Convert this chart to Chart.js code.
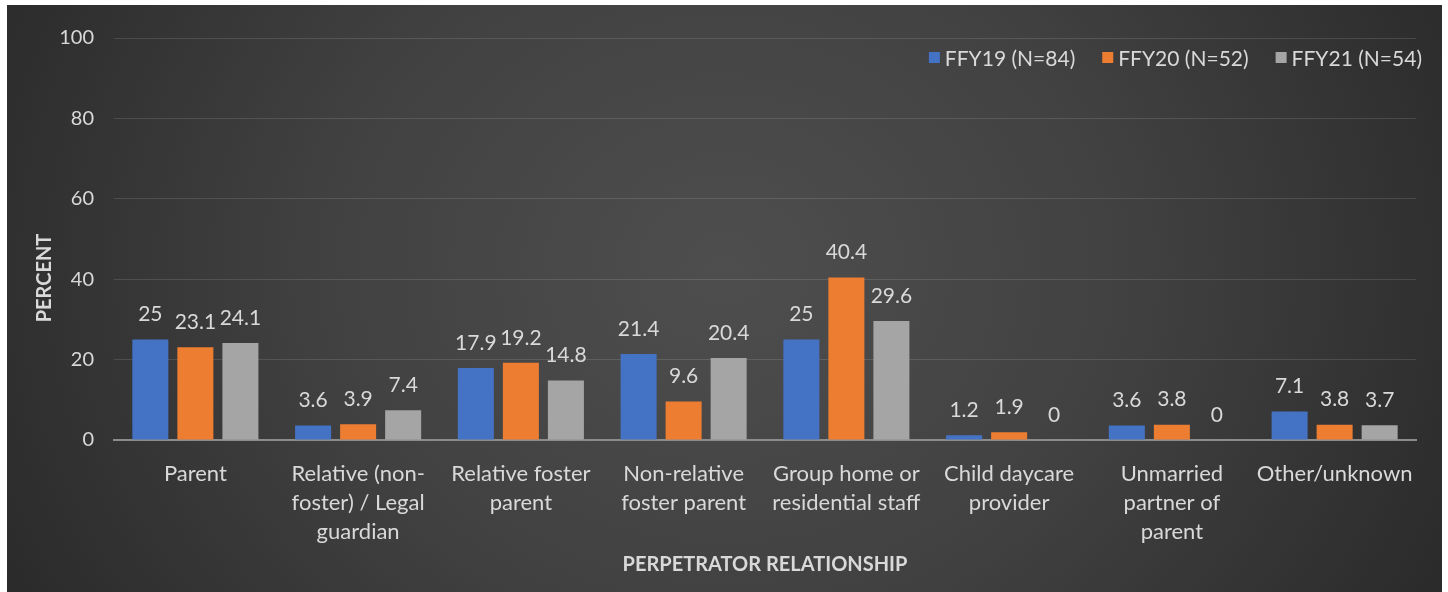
<!DOCTYPE html>
<html>
<head>
<meta charset="utf-8">
<script src="https://cdn.jsdelivr.net/npm/chart.js@4.4.1/dist/chart.umd.min.js"></script>
<style>
  html, body { margin: 0; padding: 0; background: #fff; }
  body { width: 1448px; height: 592px; position: relative; overflow: hidden; }
  .wrap {
    position: absolute; left: 7px; top: 5px; width: 1435px; height: 587px;
    background: radial-gradient(ellipse 62% 130% at 50% 45%, #4e4e4e 0%, #414141 45%, #262626 100%);
  }
</style>
</head>
<body>
<div class="wrap"><canvas id="myChart" width="1435" height="587"></canvas></div>
<script>
const categories = [
  "Parent",
  ["Relative (non-", "foster) / Legal", "guardian"],
  ["Relative foster", "parent"],
  ["Non-relative", "foster parent"],
  ["Group home or", "residential staff"],
  ["Child daycare", "provider"],
  ["Unmarried", "partner of", "parent"],
  "Other/unknown",
];

const seriesNames = ["FFY19 (N=84)", "FFY20 (N=52)", "FFY21 (N=54)"];
const seriesColors = ["#4472c4", "#ed7d31", "#a5a5a5"];
const ffy19 = [25, 3.6, 17.9, 21.4, 25, 1.2, 3.6, 7.1];
const ffy20 = [23.1, 3.9, 19.2, 9.6, 40.4, 1.9, 3.8, 3.8];
const ffy21 = [24.1, 7.4, 14.8, 20.4, 29.6, 0, 0, 3.7];

const yMin = 0;
const yMax = 100;
const yStep = 20;

const textColor = "#d9d9d9";
const fontFamily = "Lato, 'Open Sans', sans-serif";

// value labels above every bar
const barLabels = {
  id: "barLabels",
  afterDatasetsDraw(chart) {
    const ctx = chart.ctx;
    ctx.save();
    ctx.fillStyle = textColor;
    ctx.font = "21px " + fontFamily;
    ctx.textAlign = "center";
    ctx.textBaseline = "middle";
    chart.data.datasets.forEach((ds, i) => {
      chart.getDatasetMeta(i).data.forEach((bar, j) => {
        ctx.fillText(String(ds.data[j]), bar.x, bar.y - 25);
      });
    });
    ctx.restore();
  },
};

// legend sits inside the plot, top right, one row
const insideLegend = {
  id: "insideLegend",
  afterDraw(chart) {
    const ctx = chart.ctx;
    const area = chart.chartArea;
    const items = chart.legend.legendItems;
    ctx.save();
    ctx.font = "21px " + fontFamily;
    ctx.textBaseline = "middle";
    ctx.textAlign = "left";
    const y = area.top + 20;
    let x = area.right + 6;
    for (let i = items.length - 1; i >= 0; i--) {
      const w = ctx.measureText(items[i].text).width;
      x -= w;
      ctx.fillStyle = textColor;
      ctx.fillText(items[i].text, x, y + 1);
      ctx.fillStyle = items[i].fillStyle;
      ctx.fillRect(x - 16, y - 6, 11, 11);
      x -= 16 + 27;
    }
    ctx.restore();
  },
};

// y title sits a bit lower than the axis middle in the original
const yTitle = {
  id: "yTitle",
  afterDraw(chart) {
    const ctx = chart.ctx;
    const area = chart.chartArea;
    ctx.save();
    ctx.translate(area.left - 69, area.top + 240);
    ctx.rotate(-Math.PI / 2);
    ctx.fillStyle = textColor;
    ctx.font = "bold 20px " + fontFamily;
    ctx.textAlign = "center";
    ctx.textBaseline = "middle";
    ctx.fillText("PERCENT", 0, 0);
    ctx.restore();
  },
};

const ctx = document.getElementById("myChart").getContext("2d");
const myChart = new Chart(ctx, {
  type: "bar",
  data: {
    labels: categories,
    datasets: [
      { label: seriesNames[0], data: ffy19, backgroundColor: seriesColors[0] },
      { label: seriesNames[1], data: ffy20, backgroundColor: seriesColors[1] },
      { label: seriesNames[2], data: ffy21, backgroundColor: seriesColors[2] },
    ],
  },
  options: {
    responsive: false,
    animation: false,
    datasets: {
      bar: { barPercentage: 0.8, categoryPercentage: 0.83 },
    },
    layout: { padding: { top: 33, right: 26, left: 0, bottom: 0 } },
    plugins: {
      tooltip: { enabled: false },
      legend: { display: false },
    },
    scales: {
      x: {
        grid: { display: false },
        border: { display: true, color: "#8c8c8c", width: 2 },
        ticks: {
          color: textColor,
          font: { family: fontFamily, size: 22, lineHeight: 1.3 },
          maxRotation: 0,
          autoSkip: false,
          padding: 12,
        },
        title: {
          display: true,
          text: "PERPETRATOR RELATIONSHIP",
          color: textColor,
          font: { family: fontFamily, size: 20, weight: "bold" },
          padding: { top: 0, bottom: 15 },
        },
        afterFit: (scale) => { scale.height = 152; },
      },
      y: {
        min: yMin,
        max: yMax,
        grid: { color: "rgba(255,255,255,0.12)", drawTicks: false },
        border: { display: false },
        ticks: {
          stepSize: yStep,
          color: textColor,
          font: { family: fontFamily, size: 20 },
          padding: 20,
        },
        afterFit: (scale) => { scale.width = 107; },
      },
    },
  },
  plugins: [barLabels, insideLegend, yTitle],
});
</script>
</body>
</html>
